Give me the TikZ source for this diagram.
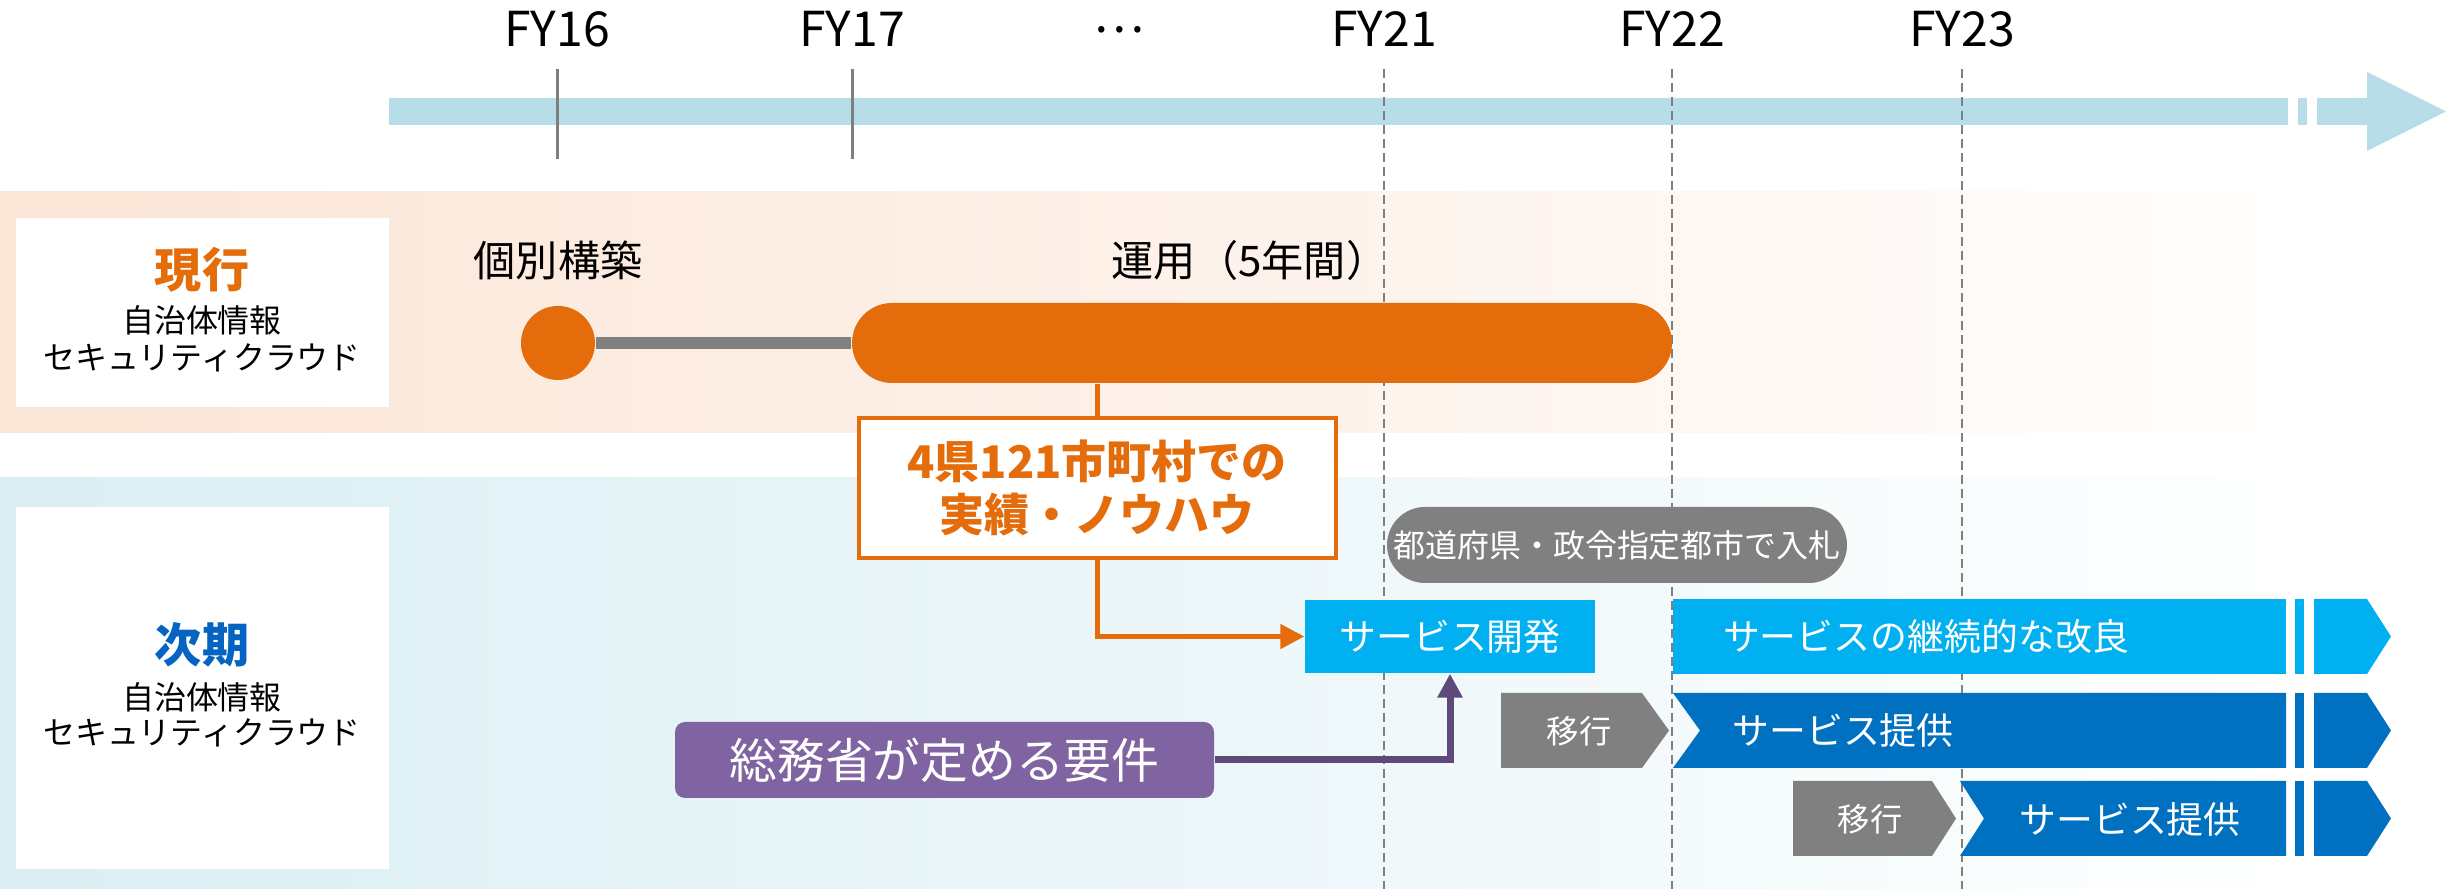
\documentclass[tikz,border=0pt]{standalone}
\usepackage{fontspec}
\setmainfont{Noto Sans CJK JP}
\usepackage{tikz}
\usetikzlibrary{positioning}
\usetikzlibrary{arrows.meta}

\definecolor{axisblue}{HTML}{B7DDE8}
\definecolor{linegray}{HTML}{7F7F7F}
\definecolor{boxgray}{HTML}{808080}
\definecolor{runorange}{HTML}{E46C0A}
\definecolor{bandorange}{HTML}{FBE5D6}
\definecolor{bandblue}{HTML}{DAEEF3}
\definecolor{devcyan}{HTML}{00B0F0}
\definecolor{servblue}{HTML}{0070C0}
\definecolor{reqpurple}{HTML}{8064A2}
\definecolor{reqline}{HTML}{5F497A}
\definecolor{nextblue}{HTML}{0563C1}

\begin{document}
\begin{tikzpicture}[
            x = 0.1mm,
            y = -0.1mm,
            txt/.style = {
                inner sep = 0pt,
                font = \fontsize{#1pt}{#1pt}\selectfont
            },
            txt/.default = 10.5,
            yeartick/.style = {line width = 0.3mm, linegray},
            yearline/.style = {line width = 0.2mm, linegray, dash pattern = on 0.9mm off 0.5mm},
            barbox/.style = {
                fill = #1,
                inner sep = 0pt,
                text = white
            },
            orangeline/.style = {line width = 0.5mm, runorange},
            tip/.style = {-{Triangle[length = 2.4mm, width = 2.4mm]}}
            ]
            \useasboundingbox (0,0) rectangle (2453,889);

            % bands
            \shade[left color = bandorange, right color = bandorange!8!white] (0,192) rectangle (2256,433);
            \shade[left color = bandblue, right color = bandblue!5!white] (0,478) rectangle (2256,889);
            \fill[white] (16,218) rectangle (389,407);
            \fill[white] (16,507) rectangle (389,869);

            \node[txt = 13.4, text = runorange] (cur) at (202,270) {\bfseries 現行};
            \node[txt = 9.1] (curA) at (202,320) {自治体情報};
            \node[txt = 9.1] (curB) at (202,358) {セキュリティクラウド};
            \node[txt = 13.4, text = nextblue] (nxt) at (202,645) {\bfseries 次期};
            \node[txt = 9.1] (nxtA) at (202,697) {自治体情報};
            \node[txt = 9.1] (nxtB) at (202,733) {セキュリティクラウド};

            % time axis
            \fill[axisblue] (389,98) rectangle (2288,125);
            \fill[axisblue] (2298,98) rectangle (2307,125);
            \fill[axisblue] (2317,98) -- (2367,98) -- (2367,72) -- (2446,111.5)
                -- (2367,151) -- (2367,125) -- (2317,125) -- cycle;

            \foreach \x/\yr in {557/16, 852/17} {
                \draw[yeartick] (\x,69) -- (\x,159);
                \node[txt = 13.7] (fy\yr) at (\x,29) {FY\yr};
            }
            \foreach \x/\yr in {1384/21, 1672/22, 1962/23} {
                \draw[yearline] (\x,69) -- (\x,889);
                \node[txt = 13.7] (fy\yr) at (\x,29) {FY\yr};
            }
            \node[txt = 13.7] (dots) at (1119,30) {…};

            % current cloud
            \node[txt = 12] (buildlbl) at (558,260) {個別構築};
            \node[txt = 12] (opslbl) at (1250,260) {運用（5年間）};
            \node[circle, fill = runorange, minimum size = 7.4mm, inner sep = 0pt] (build) at (558,343) {};
            \node[fill = runorange, rounded corners = 4mm, minimum width = 82mm,
                minimum height = 8mm, inner sep = 0pt] (ops) at (1262,343) {};
            \draw[line width = 1.2mm, boxgray] (build) -- (ops);

            \node[draw = runorange, line width = 0.4mm, fill = white, minimum width = 47.7mm,
                minimum height = 14mm, align = center, text = runorange,
                font = \fontsize{12.8pt}{15pt}\selectfont\bfseries] (exp) at (1097,488)
                {4県121市町村での\\実績・ノウハウ};
            \draw[orangeline] (ops.south -| exp.north) -- (exp.north);

            % next cloud
            \node[barbox = boxgray, rounded corners = 3.8mm, minimum width = 46mm,
                minimum height = 7.6mm, txt = 9.1] (bid) at (1617,545) {都道府県・政令指定都市で入札};
            \node[barbox = devcyan, minimum width = 29mm, minimum height = 7.3mm,
                txt = 10.5] (dev) at (1450,636.5) {サービス開発};
            \node[barbox = reqpurple, rounded corners = 1mm, minimum width = 53.9mm,
                minimum height = 7.6mm, txt = 13.6] (req) at (944.5,760) {総務省が定める要件};

            \draw[orangeline, tip] (exp.south) |- (dev.west);
            \draw[line width = 0.7mm, reqline, tip] (req.east) -| (dev.south);

            \fill[devcyan] (1673,599) rectangle (2286,674);
            \fill[servblue] (1673,693) -- (2286,693) -- (2286,768) -- (1673,768) -- (1700,730.5) -- cycle;
            \fill[servblue] (1960,781) -- (2286,781) -- (2286,856) -- (1960,856) -- (1984,818.5) -- cycle;
            \foreach \top/\bot/\col in {599/674/devcyan, 693/768/servblue, 781/856/servblue} {
                \fill[\col] (2295,\top) rectangle (2304,\bot);
                \fill[\col] (2314,\top) -- (2367,\top) -- (2391,{(\top+\bot)/2})
                    -- (2367,\bot) -- (2314,\bot) -- cycle;
            }
            \fill[boxgray] (1501,693) -- (1642,693) -- (1669,730.5) -- (1642,768) -- (1501,768) -- cycle;
            \fill[boxgray] (1793,781) -- (1932,781) -- (1956,818.5) -- (1932,856) -- (1793,856) -- cycle;

            \node[txt = 10.5, text = white] (improve) at (1926,636) {サービスの継続的な改良};
            \node[txt = 10.5, text = white] (serve) at (1843,731) {サービス提供};
            \node[txt = 10.5, text = white] (serveB) at (2130,819) {サービス提供};
            \node[txt = 9.2, text = white] (move) at (1579,731) {移行};
            \node[txt = 9.2, text = white] (moveB) at (1870,819) {移行};
        \end{tikzpicture}
\end{document}
